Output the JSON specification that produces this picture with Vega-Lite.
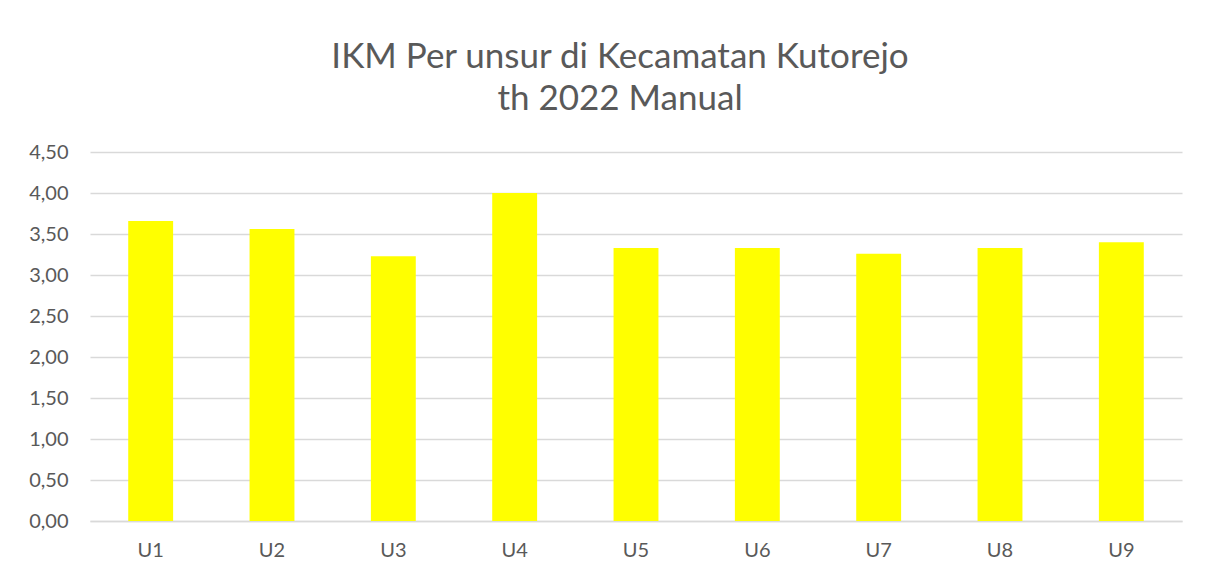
{
  "$schema": "https://vega.github.io/schema/vega-lite/v6.json",
  "width": 1092,
  "height": 369,
  "autosize": {"type": "none"},
  "padding": {"left": 90, "top": 152, "right": 27, "bottom": 57},
  "background": "white",
  "title": {
    "text": ["IKM Per unsur di Kecamatan Kutorejo", "th 2022 Manual"],
    "font": "Lato",
    "fontSize": 35,
    "fontWeight": "normal",
    "color": "#595959",
    "lineHeight": 42,
    "anchor": "middle",
    "dx": -16,
    "offset": 25
  },
  "data": {
    "values": [
      {"unsur": "U1", "nilai": 3.66},
      {"unsur": "U2", "nilai": 3.56},
      {"unsur": "U3", "nilai": 3.23},
      {"unsur": "U4", "nilai": 4.00},
      {"unsur": "U5", "nilai": 3.33},
      {"unsur": "U6", "nilai": 3.33},
      {"unsur": "U7", "nilai": 3.26},
      {"unsur": "U8", "nilai": 3.33},
      {"unsur": "U9", "nilai": 3.40}
    ]
  },
  "mark": {"type": "bar", "color": "#FFFF00"},
  "encoding": {
    "x": {
      "field": "unsur",
      "type": "nominal",
      "sort": null,
      "scale": {"paddingInner": 0.63, "paddingOuter": 0.315},
      "axis": {
        "title": null,
        "labelAngle": 0,
        "labelFont": "Lato",
        "labelFontSize": 20,
        "labelColor": "#595959",
        "ticks": false,
        "labelPadding": 19,
        "domainColor": "#d9d9d9",
        "domainWidth": 1.5
      }
    },
    "y": {
      "field": "nilai",
      "type": "quantitative",
      "scale": {"domain": [0, 4.5], "nice": false},
      "axis": {
        "title": null,
        "values": [0, 0.5, 1, 1.5, 2, 2.5, 3, 3.5, 4, 4.5],
        "labelExpr": "replace(format(datum.value, '.2f'), '.', ',')",
        "labelFont": "Lato",
        "labelFontSize": 20,
        "labelColor": "#595959",
        "ticks": false,
        "domain": false,
        "labelPadding": 22,
        "gridColor": "#d9d9d9",
        "gridWidth": 1.5
      }
    }
  },
  "config": {"view": {"stroke": null}}
}
